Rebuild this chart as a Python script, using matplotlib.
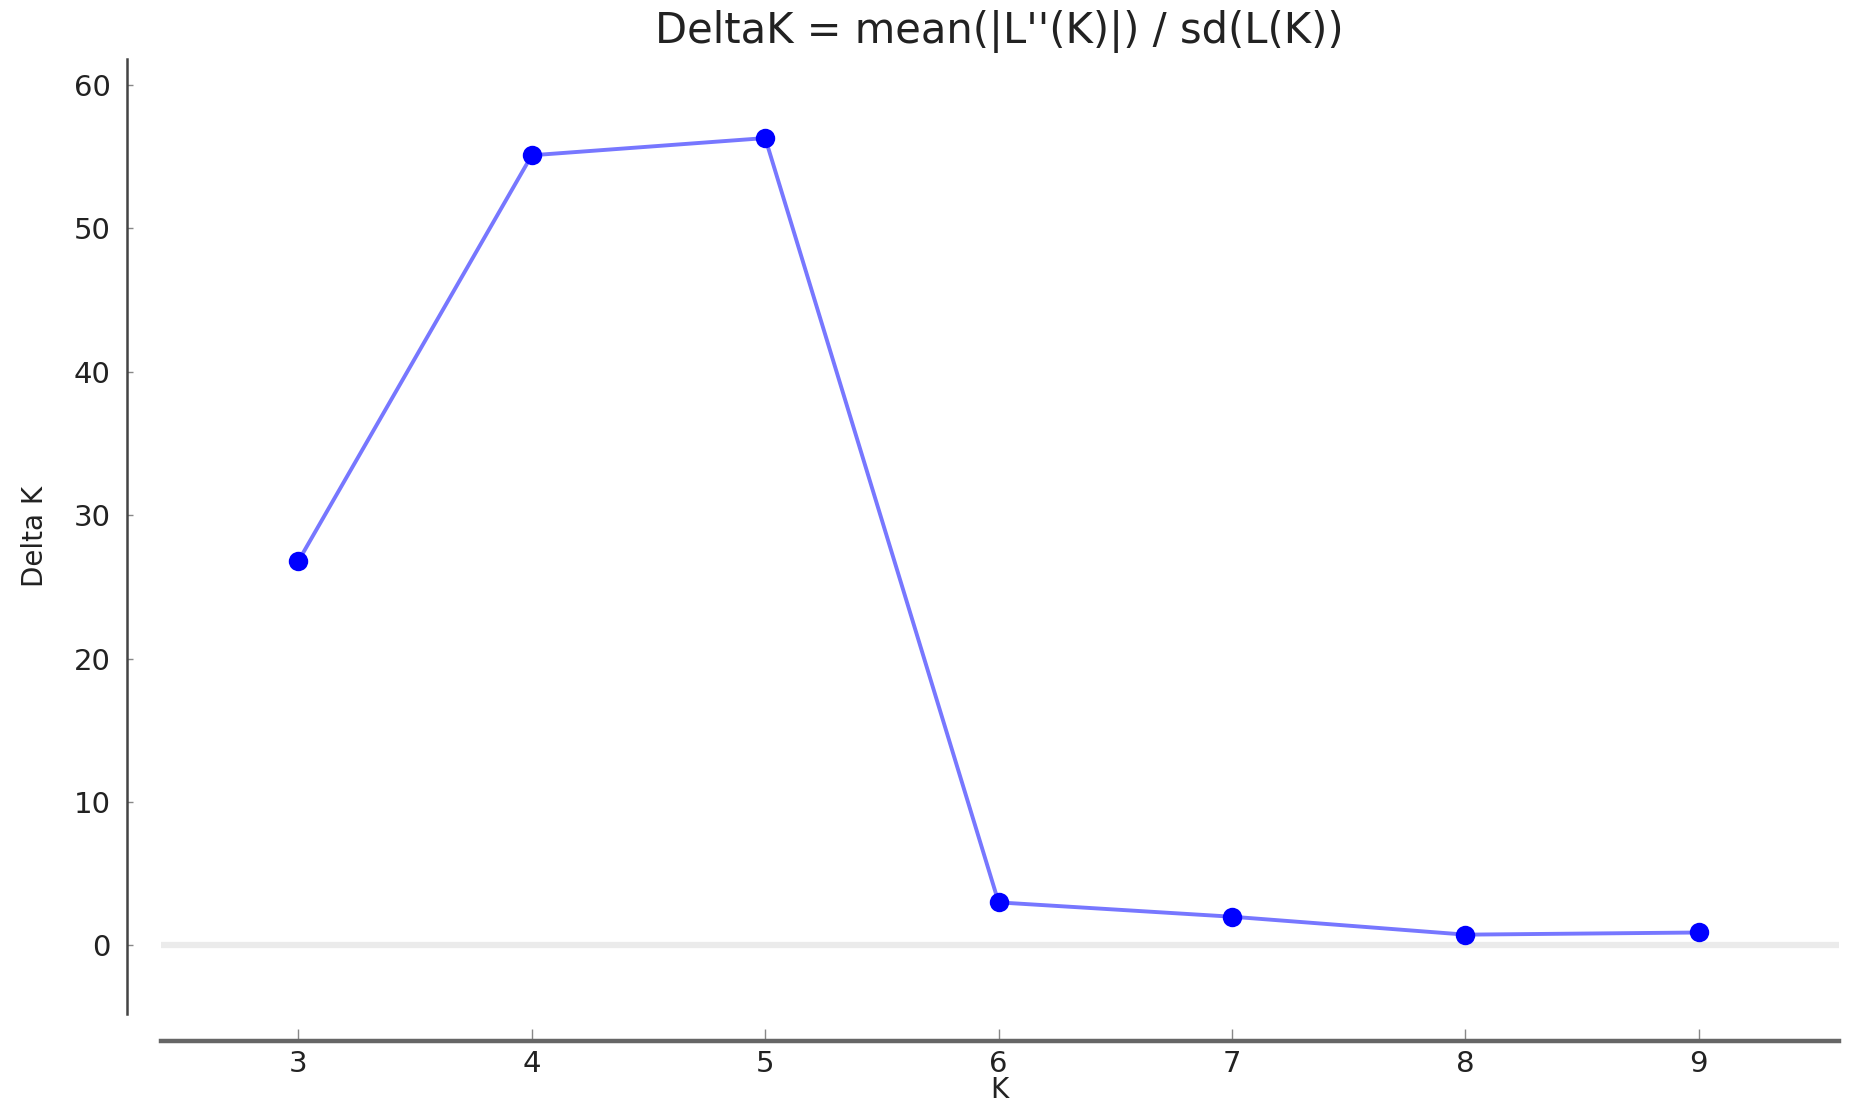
import matplotlib.pyplot as plt
import numpy as np

# valores
k_values = [3, 4, 5, 6, 7, 8, 9]
delta_k = [26.8, 55.1, 56.3, 3.0, 2.0, 0.75, 0.9]
y_ticks = [0, 10, 20, 30, 40, 50, 60]

fig = plt.figure(figsize=(18.53, 11.17), dpi=100)
ax = fig.add_axes([0.0867, 0.092, 0.9057, 0.855])

# linha de referência no zero
ax.axhline(0, color='#ebebeb', linewidth=4.5, zorder=1)

ax.plot(k_values, delta_k, '-', color='#5f5fff', alpha=0.85, linewidth=2.8, zorder=2)
ax.plot(k_values, delta_k, 'o', color='#0000ff', markersize=14, markeredgewidth=0, zorder=3)

ax.set_xlim(2.41, 9.6)
ax.set_ylim(-4.8, 61.8)
ax.set_xticks(k_values)
ax.set_yticks(y_ticks)

# eixos deslocados
ax.spines['top'].set_visible(False)
ax.spines['right'].set_visible(False)
ax.spines['left'].set_position(('outward', 24))
ax.spines['bottom'].set_position(('outward', 19))
ax.spines['left'].set_color('#444444')
ax.spines['left'].set_linewidth(1.8)
ax.spines['bottom'].set_color('#666666')
ax.spines['bottom'].set_linewidth(3.2)

ax.tick_params(axis='y', direction='in', length=4, width=1, color='#888888',
               labelsize=21, pad=12, labelcolor='#222222')
ax.tick_params(axis='x', direction='in', length=9, width=1, color='#888888',
               labelsize=21, pad=7, labelcolor='#222222')

ax.set_xlabel('K', fontsize=20, labelpad=-2, color='#222222')
ax.set_ylabel('Delta K', fontsize=20, labelpad=18, color='#222222')
ax.set_title("DeltaK = mean(|L''(K)|) / sd(L(K))", fontsize=30, pad=12, color='#222222')

fig.savefig('out.png', dpi=100)
